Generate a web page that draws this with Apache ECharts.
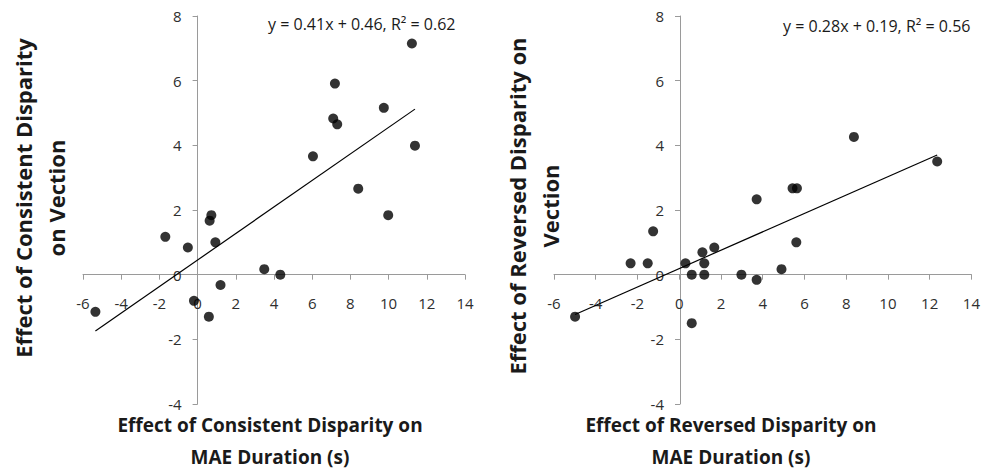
<!DOCTYPE html>
<html>
<head>
<meta charset="utf-8">
<script src="https://cdn.jsdelivr.net/npm/echarts@6/dist/echarts.min.js"></script>
<style>
html,body{margin:0;padding:0;background:#fff;}
#chart{width:983px;height:469px;}
</style>
</head>
<body>
<div id="chart"></div>
<script>
// Left panel: Consistent disparity
var consistentMAE = [11.22, 7.19, 9.75, 7.10, 7.31, 6.04, 11.38, 8.41, 9.98, 0.72, 0.63, -1.69, -0.51, 0.93, 3.49, 4.33, 1.20, -0.19, 0.59, -5.35];
var consistentVection = [7.15, 5.91, 5.16, 4.83, 4.65, 3.66, 3.99, 2.66, 1.84, 1.84, 1.67, 1.17, 0.84, 1.00, 0.17, 0.00, -0.32, -0.81, -1.30, -1.15];
var consistentTrendX = [-5.35, 11.38];
var consistentTrendY = [-1.74, 5.12];
var consistentEquation = 'y = 0.41x + 0.46, R² = 0.62';

// Right panel: Reversed disparity
var reversedMAE = [8.37, 12.36, 5.43, 5.64, 3.71, -1.25, 5.61, 1.68, 1.11, -2.33, -1.51, 0.30, 1.20, 0.60, 1.20, 2.98, 4.90, 3.71, -4.99, 0.60];
var reversedVection = [4.26, 3.50, 2.67, 2.67, 2.33, 1.34, 1.00, 0.84, 0.69, 0.35, 0.35, 0.35, 0.35, 0.00, 0.00, 0.00, 0.17, -0.16, -1.30, -1.50];
var reversedTrendX = [-4.99, 12.36];
var reversedTrendY = [-1.23, 3.70];
var reversedEquation = 'y = 0.28x + 0.19, R² = 0.56';

var xTicks = {min: -6, max: 14, interval: 2};
var yTicks = {min: -4, max: 8, interval: 2};

var leftXTitle = 'Effect of Consistent Disparity on\nMAE Duration (s)';
var leftYTitle = 'Effect of Consistent Disparity\non Vection';
var rightXTitle = 'Effect of Reversed Disparity on\nMAE Duration (s)';
var rightYTitle = 'Effect of Reversed Disparity on\nVection';

function pairs(xs, ys){ return xs.map(function(x,i){ return [x, ys[i]]; }); }

var FONT = '"Open Sans", "Liberation Sans", sans-serif';
var axisColor = '#9a9a9a';
var labelColor = '#2e2e2e';

var grids = [
  {left: 83, width: 382, top: 16, height: 388},
  {left: 554, width: 420, top: 16, height: 388}
];

function xAxisDef(gi){
  var g = grids[gi];
  var off = -(0 - yTicks.min) / (yTicks.max - yTicks.min) * g.height;
  return {
    gridIndex: gi, type: 'value', position: 'bottom', offset: off,
    min: xTicks.min, max: xTicks.max, interval: xTicks.interval,
    axisLine: {onZero: false, lineStyle: {color: axisColor, width: 1}},
    axisTick: {show: true, length: 5, lineStyle: {color: axisColor}},
    splitLine: {show: false},
    axisLabel: {margin: 21, color: labelColor, fontSize: 15, fontFamily: FONT}
  };
}
function yAxisDef(gi){
  var g = grids[gi];
  var off = -(0 - xTicks.min) / (xTicks.max - xTicks.min) * g.width;
  return {
    gridIndex: gi, type: 'value', position: 'left', offset: off,
    min: yTicks.min, max: yTicks.max, interval: yTicks.interval,
    axisLine: {show: true, onZero: false, lineStyle: {color: axisColor, width: 1}},
    axisTick: {show: true, length: 5, lineStyle: {color: axisColor}},
    splitLine: {show: false},
    axisLabel: {margin: 16, color: labelColor, fontSize: 15, fontFamily: FONT, padding: [7,0,0,0]}
  };
}
function scatter(gi, xs, ys){
  return {type: 'scatter', xAxisIndex: gi, yAxisIndex: gi, data: pairs(xs, ys),
    symbol: 'circle', symbolSize: 10, itemStyle: {color: '#000'}, z: 3, silent: true};
}
function trend(gi, xs, ys){
  return {type: 'line', xAxisIndex: gi, yAxisIndex: gi, data: pairs(xs, ys),
    showSymbol: false, symbol: 'none', lineStyle: {color: '#000', width: 1.2}, z: 2, silent: true};
}

var titleStyle = {fill: '#1a1a1a', font: 'bold 19px ' + FONT, textAlign: 'center', textVerticalAlign: 'middle', lineHeight: 32};
function txt(x, y, text, rot, extra){
  var st = Object.assign({}, titleStyle, {text: text}, extra || {});
  return {type: 'text', x: x, y: y, rotation: rot || 0, style: st, silent: true};
}

var chart = echarts.init(document.getElementById('chart'), null, {renderer: 'svg'});
chart.setOption({
  animation: false,
  backgroundColor: '#fff',
  grid: grids,
  xAxis: [xAxisDef(0), xAxisDef(1)],
  yAxis: [yAxisDef(0), yAxisDef(1)],
  series: [
    scatter(0, consistentMAE, consistentVection),
    trend(0, consistentTrendX, consistentTrendY),
    scatter(1, reversedMAE, reversedVection),
    trend(1, reversedTrendX, reversedTrendY)
  ],
  graphic: [
    txt(270, 441, leftXTitle, 0),
    txt(731, 441, rightXTitle, 0),
    txt(39, 198, leftYTitle, Math.PI/2, {font: 'bold 22px ' + FONT, lineHeight: 33}),
    txt(533, 206, rightYTitle, Math.PI/2, {font: 'bold 22px ' + FONT, lineHeight: 33}),
    txt(268, 24, consistentEquation, 0, {font: '16px ' + FONT, textAlign: 'left', fill: '#1a1a1a'}),
    txt(783, 26, reversedEquation, 0, {font: '16px ' + FONT, textAlign: 'left', fill: '#1a1a1a'})
  ]
});
</script>
</body>
</html>
